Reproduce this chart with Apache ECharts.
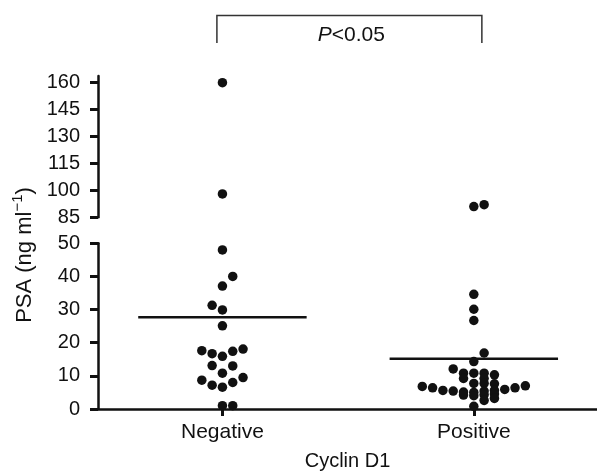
<!DOCTYPE html>
<html><head><meta charset="utf-8">
<script src="https://cdn.jsdelivr.net/npm/echarts@6/dist/echarts.min.js"></script>
<style>html,body{margin:0;padding:0;background:#fff}#c{width:597px;height:472px}</style>
</head><body><div id="c"></div>
<script>
// ---- data ----
const categories = ['Negative', 'Positive'];
const negativeValues  = [160, 98, 48, 40, 37.1, 31.3, 29.9, 25.1, 17.6, 16.7, 15.9, 17.4, 18.1, 13.1, 13.0, 10.8, 8.7, 9.5, 7.2, 6.6, 8.0, 1.0, 1.0];
const negativeColumns = [0,   0,  0,  1,  0,   -1,    0,    0,   -2,   -1,    0,    1,    2,   -1,    1,    0,  -2,   2,  -1,   0,   1,   0,   1];
const positiveValues  = [91, 92, 34.6, 30.1, 26.7, 16.9, 14.3, 12.1, 10.8, 10.8, 10.8, 10.3, 9.2, 9.2, 7.7, 7.7, 7.6,
                         6.8, 6.4, 5.6, 5.4, 5.1, 5.0, 5.4, 5.6, 5.9, 6.4, 7.0, 4.2, 4.0, 4.3, 4.5, 2.6, 3.2, 0.8];
const positiveColumns = [0,  1,  0,    0,    0,    1,    0,   -2,   -1,    0,    1,    2,  -1,   1,   0,   1,   2,
                         -5,  -4,  -3,  -2,  -1,   0,   1,   2,   3,   4,   5,  -1,   0,   1,   2,   1,   2,   0];
const meanValues = [27.7, 15.2];
const lowerTicks = [0, 10, 20, 30, 40, 50];
const upperTicks = [85, 100, 115, 130, 145, 160];
const yAxisTitle = ['PSA (ng ml', '\u22121', ')'];
const xAxisTitle = 'Cyclin D1';
const pText = ['P', '<0.05'];

// ---- build ----
const FONT = 'Liberation Sans, Arial, Helvetica, sans-serif';
const INK = '#111';
const COL_W = 0.041;
const BREAK = 50;
function points(vals, cols, idx) {
  return vals.map((v, i) => [idx + 1 + cols[i] * COL_W, v]);
}
const allPts = points(negativeValues, negativeColumns, 0).concat(points(positiveValues, positiveColumns, 1));
const lowPts = allPts.filter(p => p[1] <= BREAK);
const highPts = allPts.filter(p => p[1] > BREAK);

const axisLineStyle = { color: INK, width: 2.5 };
const tickStyle = { color: INK, width: 3 };
const tickLabel = { fontSize: 20, color: INK, fontFamily: FONT };
const catLabel = { fontSize: 21, color: INK, fontFamily: FONT };

const chart = echarts.init(document.getElementById('c'), null, { renderer: 'canvas' });
chart.setOption({
  animation: false,
  backgroundColor: '#fff',
  grid: [
    { left: 98, right: 0, top: 76, bottom: 254.7 },
    { left: 98, right: 0, top: 243.3, bottom: 62.7 }
  ],
  xAxis: [
    { gridIndex: 0, type: 'value', min: 0.505, max: 2.49, show: false },
    { gridIndex: 1, type: 'value', min: 0.505, max: 2.49,
      axisLine: { show: true, onZero: false, lineStyle: axisLineStyle },
      axisTick: { show: true, customValues: [1, 2], length: 7, lineStyle: tickStyle },
      axisLabel: Object.assign({ customValues: [1, 2], margin: 13, formatter: v => categories[Math.round(v) - 1] }, catLabel),
      splitLine: { show: false },
      name: xAxisTitle, nameLocation: 'middle', nameGap: 42,
      nameTextStyle: { fontSize: 20, color: INK, fontFamily: FONT } }
  ],
  yAxis: [
    { gridIndex: 0, type: 'value', min: 85, max: 163.7,
      axisLine: { show: true, lineStyle: axisLineStyle },
      axisTick: { show: true, customValues: upperTicks, length: 8, lineStyle: tickStyle },
      axisLabel: Object.assign({ customValues: upperTicks, margin: 18 }, tickLabel),
      splitLine: { show: false } },
    { gridIndex: 1, type: 'value', min: 0, max: 50, interval: 10,
      axisLine: { show: true, onZero: false, lineStyle: axisLineStyle },
      axisTick: { show: true, customValues: lowerTicks, length: 8, lineStyle: tickStyle },
      axisLabel: Object.assign({ customValues: lowerTicks, margin: 18 }, tickLabel),
      splitLine: { show: false } }
  ],
  series: [
    { type: 'scatter', xAxisIndex: 0, yAxisIndex: 0, data: highPts, symbolSize: 9.5, itemStyle: { color: INK, opacity: 1 } },
    { type: 'scatter', xAxisIndex: 1, yAxisIndex: 1, data: lowPts, symbolSize: 9.5, itemStyle: { color: INK, opacity: 1 } },
    ...meanValues.map((m, i) => ({
      type: 'line', xAxisIndex: 1, yAxisIndex: 1, symbol: 'none', z: 3,
      data: [[i + 1 - 0.335, m], [i + 1 + 0.335, m]],
      lineStyle: { color: INK, width: 2.5 }
    }))
  ]
});

// significance bracket & y title
const xl = chart.convertToPixel({ xAxisIndex: 1 }, 0.978);
const xr = chart.convertToPixel({ xAxisIndex: 1 }, 2.032);
chart.setOption({
  graphic: [
    { type: 'polyline', shape: { points: [[xl, 43], [xl, 15.5], [xr, 15.5], [xr, 43]] },
      style: { stroke: '#333', lineWidth: 1.5, fill: null } },
    { type: 'text', x: (xl + xr) / 2 + 2, y: 35,
      style: { text: '{i|' + pText[0] + '}{n|' + pText[1] + '}',
        rich: { i: { fontStyle: 'italic', fontSize: 21, fontFamily: FONT, fill: INK },
                n: { fontSize: 21, fontFamily: FONT, fill: INK } },
        fontSize: 21, fontFamily: FONT, fill: INK, align: 'center', verticalAlign: 'middle' } },
    { type: 'text', x: 23, y: 255, rotation: Math.PI / 2,
      style: { text: '{n|' + yAxisTitle[0] + '}{s|' + yAxisTitle[1] + '}{n|' + yAxisTitle[2] + '}',
        rich: { n: { fontSize: 22, fontFamily: FONT, fill: INK, lineHeight: 25, verticalAlign: 'bottom' },
                s: { fontSize: 15, fontFamily: FONT, fill: INK, lineHeight: 25, verticalAlign: 'top' } },
        fontSize: 22, fontFamily: FONT, fill: INK, align: 'center', verticalAlign: 'middle' } }
  ]
});
</script></body></html>
